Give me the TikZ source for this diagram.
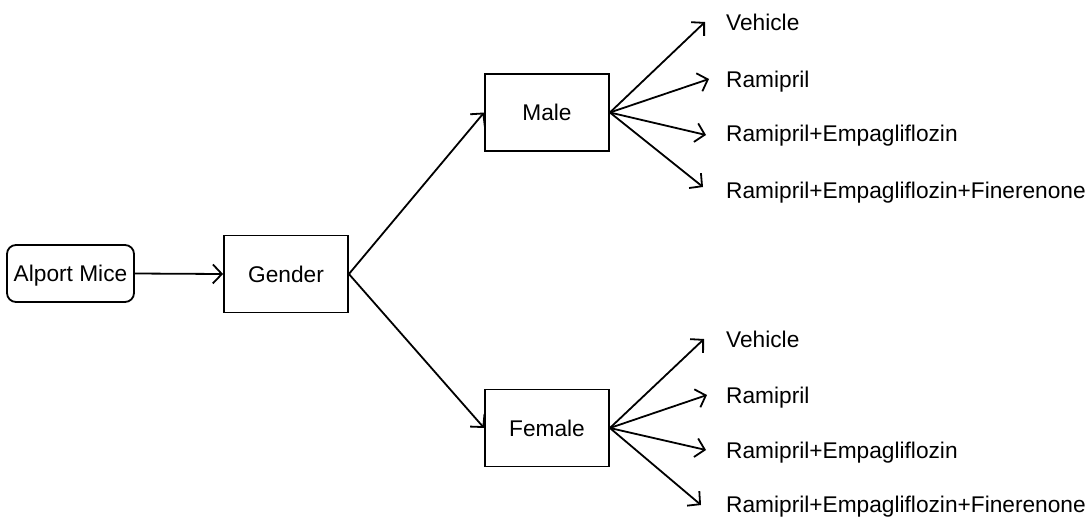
\documentclass[tikz,border=0pt]{standalone}
\usepackage{fontspec}
\setmainfont{Liberation Sans}
\usetikzlibrary{arrows.meta}
\begin{document}
\begin{tikzpicture}[x=1pt,y=-1pt,
  every node/.style={font=\fontsize{22.7}{27}\selectfont},
  box/.style={draw,line width=1.8pt,minimum width=124pt,minimum height=77pt,inner sep=0pt,text height=16.3pt,text depth=0pt},
  rbox/.style={draw,line width=1.8pt,rounded corners=9pt,minimum width=127pt,minimum height=57pt,inner sep=0pt,text height=16.3pt,text depth=0pt},
  lbl/.style={anchor=base west,inner sep=0pt},
  arr/.style={line width=1.8pt,-{Straight Barb[length=9pt,width=19pt,line width=1.8pt]}}]
\useasboundingbox (0,0) rectangle (1092,517);
\node[rbox] (alport) at (70.5,273.5) {Alport Mice};
\node[box] (gender) at (286,274) {Gender};
\node[box] (male) at (547,112.5) {Male};
\node[box] (female) at (547,428) {Female};
% male labels
\node[lbl] (mv) at (726,30.5) {Vehicle};
\node[lbl] (mr) at (726,87.5) {Ramipril};
\node[lbl] (mre) at (726,141) {Ramipril+Empagliflozin};
\node[lbl] (mref) at (726,198) {Ramipril+Empagliflozin+Finerenone};
% female labels
\node[lbl] (fv) at (726,347) {Vehicle};
\node[lbl] (fr) at (726,403) {Ramipril};
\node[lbl] (fre) at (726,458) {Ramipril+Empagliflozin};
\node[lbl] (fref) at (726,512) {Ramipril+Empagliflozin+Finerenone};
% arrow end points
\coordinate (emv) at (705,22);
\coordinate (emr) at (709,79);
\coordinate (emre) at (706,135);
\coordinate (emref) at (703,187);
\coordinate (efv) at (704,339);
\coordinate (efr) at (707,395);
\coordinate (efre) at (706,450);
\coordinate (efref) at (701,505);
\draw[arr] (alport.east) -- (gender.west);
\draw[arr] (gender.east) -- (male.west);
\draw[arr] (gender.east) -- (female.west);
\foreach \t in {emv,emr,emre,emref} \draw[arr] (male.east) -- (\t);
\foreach \t in {efv,efr,efre,efref} \draw[arr] (female.east) -- (\t);
\end{tikzpicture}
\end{document}
